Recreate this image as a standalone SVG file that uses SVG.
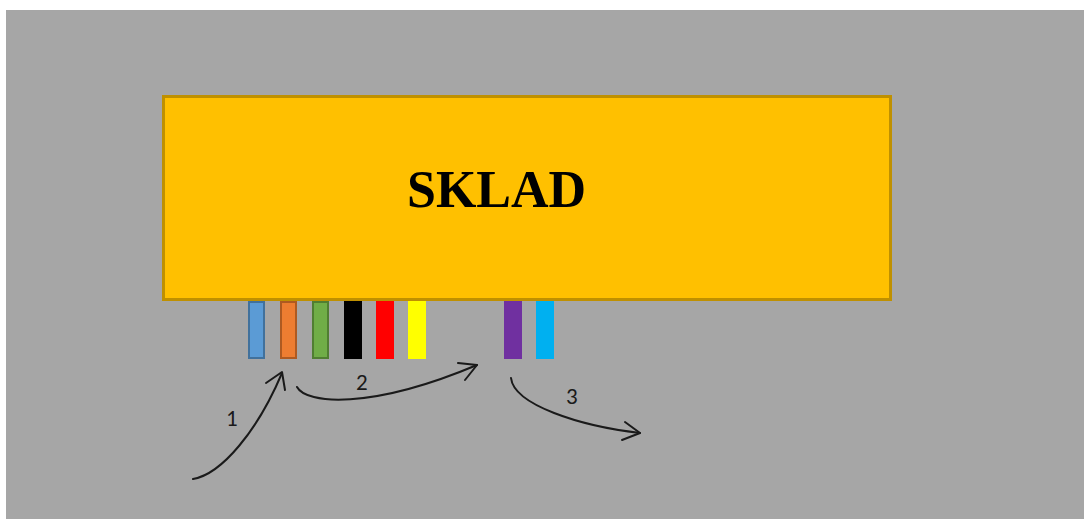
<svg xmlns="http://www.w3.org/2000/svg" width="1084" height="519" viewBox="0 0 1084 519">
  <defs>
    <style>
      .bar { stroke-width: 2; }
      .flow { fill: none; stroke: #1a1a1a; stroke-width: 2; stroke-linecap: round; stroke-linejoin: round; }
      .num { font-family: "Carlito", "Open Sans", "Liberation Sans", sans-serif; font-size: 23px; fill: #1a1a1a; }
    </style>
  </defs>

  <!-- page background -->
  <rect x="0" y="0" width="1084" height="519" fill="#ffffff"/>
  <rect x="6" y="10" width="1078" height="509" fill="#a6a6a6"/>

  <!-- warehouse block -->
  <g id="sklad">
    <rect x="163.5" y="96.5" width="727" height="203" fill="#ffc000" stroke="#bf9000" stroke-width="3"/>
    <text x="407" y="207" font-family="Liberation Serif, serif" font-weight="bold" font-size="52" fill="#000">SKLAD</text>
  </g>

  <!-- docks along the lower edge -->
  <g id="dock-blue"><rect class="bar" x="249" y="302" width="15" height="56" fill="#5b9bd5" stroke="#41719c"/></g>
  <g id="dock-orange"><rect class="bar" x="281" y="302" width="15" height="56" fill="#ed7d31" stroke="#ae5a21"/></g>
  <g id="dock-green"><rect class="bar" x="313" y="302" width="15" height="56" fill="#70ad47" stroke="#507e32"/></g>
  <g id="dock-black"><rect x="344" y="301" width="18" height="58" fill="#000000"/></g>
  <g id="dock-red"><rect x="376" y="301" width="18" height="58" fill="#ff0000"/></g>
  <g id="dock-yellow"><rect x="408" y="301" width="18" height="58" fill="#ffff00"/></g>
  <g id="dock-purple"><rect x="504" y="301" width="18" height="58" fill="#7030a0"/></g>
  <g id="dock-cyan"><rect x="536" y="301" width="18" height="58" fill="#00b0f0"/></g>

  <!-- movement arrows -->
  <g id="connectors">
    <path class="flow" d="M193,479 C222,474 258,430 282,373"/>
    <path class="flow" d="M266,383 L282,372 L285,390"/>
    <path class="flow" d="M297,387 C306,404 370,410 477,365"/>
    <path class="flow" d="M458,363 L477,365 L465,380"/>
    <path class="flow" d="M511,378 C514,405 580,426 640,433"/>
    <path class="flow" d="M625,422 L640,433 L622,440"/>
  </g>

  <g id="labels">
    <text class="num" x="226" y="426">1</text>
    <text class="num" x="356" y="390">2</text>
    <text class="num" x="566" y="404">3</text>
  </g>
</svg>
